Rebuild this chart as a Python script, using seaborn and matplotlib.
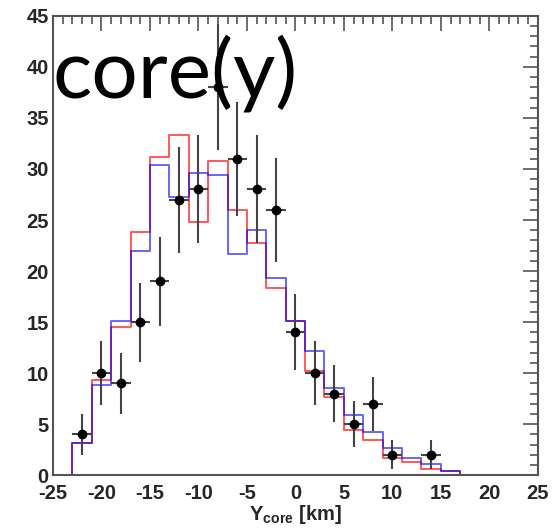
import numpy as np
import matplotlib
matplotlib.use('Agg')
import matplotlib.pyplot as plt
import seaborn as sns

# bin centres (width 2 km, edges at odd numbers)
centers = [-24, -22, -20, -18, -16, -14, -12, -10, -8, -6, -4, -2, 0,
           2, 4, 6, 8, 10, 12, 14, 16, 18, 20, 22, 24]
edges = [-25, -23, -21, -19, -17, -15, -13, -11, -9, -7, -5, -3, -1,
         1, 3, 5, 7, 9, 11, 13, 15, 17, 19, 21, 23, 25]

# MC histograms
mc_red = [0, 3.2, 9.3, 14.5, 23.8, 31.2, 33.3, 24.8, 30.8, 26.0, 22.7, 18.3, 15.1,
          10.2, 7.7, 4.4, 3.4, 1.7, 1.3, 0.65, 0.45, 0, 0, 0, 0]
mc_blue = [0, 3.2, 8.8, 15.1, 22.0, 30.4, 27.3, 29.6, 29.4, 21.7, 24.0, 19.3, 15.1,
           12.2, 8.5, 5.9, 4.2, 2.7, 1.7, 1.1, 0.4, 0, 0, 0, 0]

# measured data points
data_x = [-22, -20, -18, -16, -14, -12, -10, -8, -6, -4, -2, 0, 2, 4, 6, 8, 10, 14]
data_n = [4, 10, 9, 15, 19, 27, 28, 38, 31, 28, 26, 14, 10, 8, 5, 7, 2, 2]

sns.set_style('white')
plt.rcParams['font.family'] = ['Liberation Sans', 'DejaVu Sans']
plt.rcParams['axes.unicode_minus'] = False
plt.rcParams['mathtext.fontset'] = 'custom'
plt.rcParams['mathtext.rm'] = 'Liberation Sans:bold'
plt.rcParams['mathtext.bf'] = 'Liberation Sans:bold'

fig = plt.figure(figsize=(5.55, 5.28), dpi=100)
ax = fig.add_axes([0.0955, 0.100, 0.8735, 0.870])

sns.histplot(x=centers, weights=mc_red, bins=edges, element='step', fill=False,
             color='red', alpha=0.65, linewidth=1.4, ax=ax)
sns.histplot(x=centers, weights=mc_blue, bins=edges, element='step', fill=False,
             color='blue', alpha=0.6, linewidth=1.4, ax=ax)

ax.errorbar(data_x, data_n, xerr=1, yerr=np.sqrt(data_n), fmt='o', color='black',
            ecolor='#444444', ms=6, elinewidth=1.5, capsize=0, zorder=5)

ax.set_xlim(-25, 25)
ax.set_ylim(0, 45)
ax.set_xticks(range(-25, 26, 5))
ax.set_xticks(range(-25, 26, 1), minor=True)
ax.set_yticks(range(0, 46, 5))
ax.set_yticks(range(0, 46, 1), minor=True)
ax.tick_params(which='both', direction='in', top=True, right=True, color='#555555',
               width=1.2, labelsize=14.5)
ax.tick_params(which='major', length=11)
ax.tick_params(axis='y', which='major', pad=3)
ax.tick_params(axis='x', which='major', pad=6)
ax.tick_params(which='minor', length=5.5)
for lab in ax.get_xticklabels() + ax.get_yticklabels():
    lab.set_fontweight('bold')
for sp in ax.spines.values():
    sp.set_color('#555555')
    sp.set_linewidth(1.5)

ax.set_ylabel('')
ax.set_xlabel(r'Y$_{\mathrm{core}}$ [km]', fontsize=14.5, fontweight='bold', labelpad=0)

fig.text(53 / 555, 1 - 97 / 528, 'core(y)', fontsize=59, family='Lato',
         fontweight='normal', va='baseline', ha='left', color='black')

plt.savefig('out.png', dpi=100)
